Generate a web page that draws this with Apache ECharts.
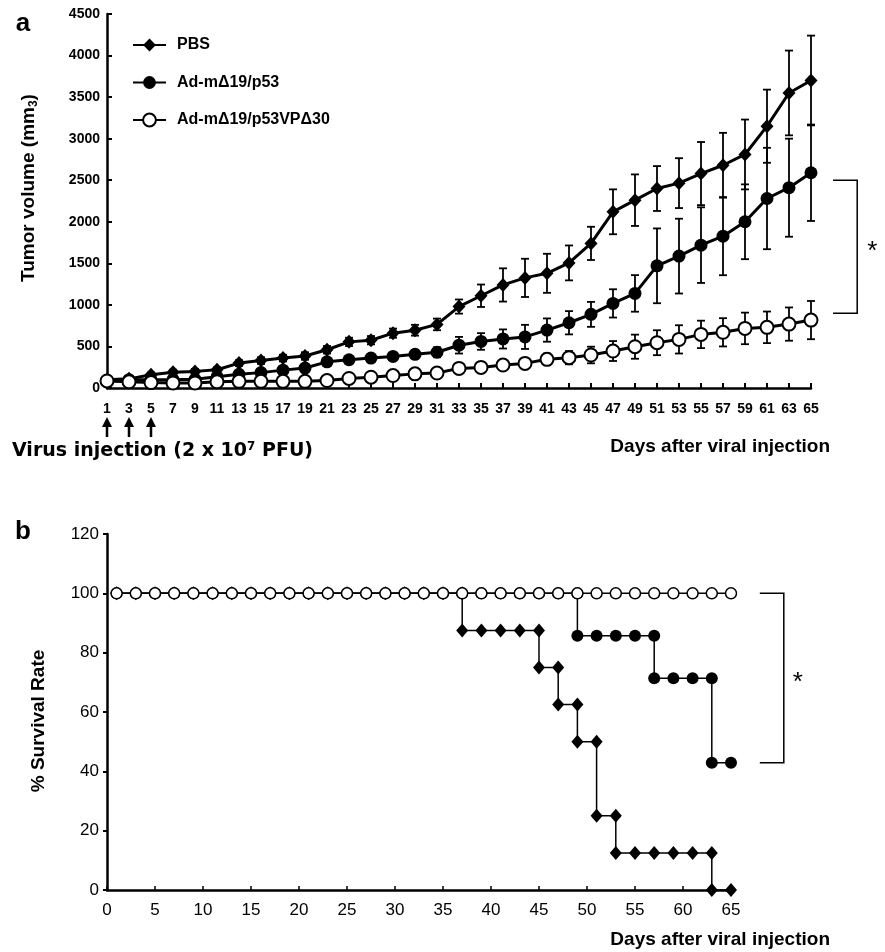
<!DOCTYPE html>
<html><head><meta charset="utf-8">
<script src="https://cdn.jsdelivr.net/npm/echarts@6/dist/echarts.min.js"></script>
<style>html,body{margin:0;padding:0;background:#fff}#c{width:885px;height:952px}</style>
</head><body><div id="c"></div>
<script>
// ---- Panel a: tumor volume (mean ± error) ----
const days = [1,3,5,7,9,11,13,15,17,19,21,23,25,27,29,31,33,35,37,39,41,43,45,47,49,51,53,55,57,59,61,63,65];
const pbsMean = [100,110,160,190,200,220,300,330,360,385,460,555,575,660,695,765,980,1110,1240,1325,1380,1505,1740,2120,2260,2400,2465,2580,2680,2810,3150,3550,3700];
const pbsErr  = [20,20,25,30,30,30,35,40,40,45,45,50,50,55,65,70,85,135,200,230,235,210,200,270,310,270,300,380,390,420,440,510,540];
const adMean  = [90,100,100,100,105,135,165,185,215,240,315,340,360,380,405,430,515,560,590,615,697,785,886,1018,1138,1470,1587,1719,1827,2000,2280,2410,2590];
const adErr   = [15,15,20,20,20,25,25,30,30,35,40,40,40,45,50,60,100,100,115,145,140,140,150,170,220,450,450,455,470,450,610,590,580];
const vpMean  = [85,75,65,60,60,75,80,80,80,80,90,115,130,150,170,180,236,248,276,296,345,365,397,445,497,545,585,645,670,717,730,769,817];
const vpErr   = [10,10,10,10,10,15,15,15,15,15,20,25,25,30,35,40,50,55,60,60,70,80,100,120,145,150,170,165,170,190,190,200,230];
const seriesNames = ['PBS','Ad-mΔ19/p53','Ad-mΔ19/p53VPΔ30'];
const injectionDays = [1,3,5];
const bracketA = [2500, 900];

// ---- Panel b: survival (%) ----
const pbsSurvX = [1,3,5,7,9,11,13,15,17,19,21,23,25,27,29,31,33,35,37,37,39,41,43,45,45,47,47,49,49,51,51,53,53,55,57,59,61,63,63,65];
const pbsSurvY = [100,100,100,100,100,100,100,100,100,100,100,100,100,100,100,100,100,100,100,87.5,87.5,87.5,87.5,87.5,75,75,62.5,62.5,50,50,25,25,12.5,12.5,12.5,12.5,12.5,12.5,0,0];
const adSurvX = [1,3,5,7,9,11,13,15,17,19,21,23,25,27,29,31,33,35,37,39,41,43,45,47,49,49,51,53,55,57,57,59,61,63,63,65];
const adSurvY = [100,100,100,100,100,100,100,100,100,100,100,100,100,100,100,100,100,100,100,100,100,100,100,100,100,85.7,85.7,85.7,85.7,85.7,71.4,71.4,71.4,71.4,42.9,42.9];
const vpSurvX = [1,3,5,7,9,11,13,15,17,19,21,23,25,27,29,31,33,35,37,39,41,43,45,47,49,51,53,55,57,59,61,63,65];
const vpSurvY = [100,100,100,100,100,100,100,100,100,100,100,100,100,100,100,100,100,100,100,100,100,100,100,100,100,100,100,100,100,100,100,100,100];
const bracketB = [100, 42.9];

const F = '"Liberation Sans", Arial, sans-serif';
const FD = '"DejaVu Sans", "Liberation Sans", sans-serif';
const FN = '"Liberation Sans Narrow", "Arial Narrow", "Liberation Sans", Arial, sans-serif';

const chart = echarts.init(document.getElementById('c'), null, {renderer:'canvas'});

function errSeries(mean, err) {
  return {
    type:'custom', xAxisIndex:0, yAxisIndex:0, z:2, silent:true,
    data: mean.map((m,i)=>[i, m-err[i], m+err[i]]),
    encode:{x:0, y:[1,2]},
    renderItem(params, api){
      const x = api.value(0);
      const lo = api.coord([x, api.value(1)]);
      const hi = api.coord([x, api.value(2)]);
      const w = 4, st = {stroke:'#000', lineWidth:1.8};
      return {type:'group', children:[
        {type:'line', shape:{x1:lo[0],y1:lo[1],x2:hi[0],y2:hi[1]}, style:st},
        {type:'line', shape:{x1:lo[0]-w,y1:lo[1],x2:lo[0]+w,y2:lo[1]}, style:st},
        {type:'line', shape:{x1:hi[0]-w,y1:hi[1],x2:hi[0]+w,y2:hi[1]}, style:st}
      ]};
    }
  };
}

const axisLineStyle = {color:'#000', width:2.5};
const option = {
  animation:false,
  backgroundColor:'#fff',
  grid:[
    {left:107, top:14, width:704, height:374},
    {left:107, top:534, width:624, height:356}
  ],
  legend:{
    data:seriesNames, orient:'vertical', left:132, top:37, padding:0,
    itemWidth:33, itemHeight:16, itemGap:21.5,
    selectedMode:false,
    textStyle:{fontFamily:F, fontWeight:'bold', fontSize:16, color:'#000', padding:[0,0,0,6]}
  },
  xAxis:[
    {gridIndex:0, type:'category', data:days.map(String), boundaryGap:false,
     axisLine:{lineStyle:axisLineStyle},
     axisTick:{inside:true, length:5, alignWithLabel:true, lineStyle:{color:'#000', width:2}},
     axisLabel:{interval:0, color:'#000', fontFamily:F, fontWeight:'bold', fontSize:14, margin:14},
     splitLine:{show:false}},
    {gridIndex:1, type:'value', min:0, max:65, interval:5,
     axisLine:{show:true, lineStyle:axisLineStyle},
     axisTick:{inside:true, length:4, lineStyle:{color:'#000', width:1.5}},
     axisLabel:{color:'#000', fontFamily:FN, fontSize:17, margin:12},
     splitLine:{show:false}}
  ],
  yAxis:[
    {gridIndex:0, type:'value', min:0, max:4500, interval:500,
     axisLine:{show:true, lineStyle:axisLineStyle},
     axisTick:{show:true, inside:true, length:5, lineStyle:{color:'#000', width:2}},
     axisLabel:{color:'#000', fontFamily:F, fontWeight:'bold', fontSize:14, margin:7, formatter:v=>String(v)},
     splitLine:{show:false}},
    {gridIndex:1, type:'value', min:0, max:120, interval:20,
     axisLine:{show:true, lineStyle:axisLineStyle},
     axisTick:{show:true, inside:false, length:4, lineStyle:{color:'#000', width:2}},
     axisLabel:{color:'#000', fontFamily:FN, fontSize:17, margin:8},
     splitLine:{show:false}}
  ],
  series:[
    errSeries(pbsMean, pbsErr),
    errSeries(adMean, adErr),
    errSeries(vpMean, vpErr),
    {name:seriesNames[0], type:'line', xAxisIndex:0, yAxisIndex:0, z:3, data:pbsMean,
     symbol:'diamond', symbolSize:[13,14], showAllSymbol:true,
     lineStyle:{color:'#000', width:3}, itemStyle:{color:'#000'}},
    {name:seriesNames[1], type:'line', xAxisIndex:0, yAxisIndex:0, z:4, data:adMean,
     symbol:'circle', symbolSize:13, showAllSymbol:true,
     lineStyle:{color:'#000', width:3}, itemStyle:{color:'#000'}},
    {name:seriesNames[2], type:'line', xAxisIndex:0, yAxisIndex:0, z:5, data:vpMean,
     symbol:'circle', symbolSize:13, showAllSymbol:true,
     lineStyle:{color:'#000', width:3}, itemStyle:{color:'#fff', borderColor:'#000', borderWidth:2}},
    {name:'PBS_surv', type:'line', xAxisIndex:1, yAxisIndex:1, z:3,
     data:pbsSurvX.map((x,i)=>[x,pbsSurvY[i]]),
     symbol:'diamond', symbolSize:[12,14], showAllSymbol:true,
     lineStyle:{color:'#000', width:1.5}, itemStyle:{color:'#000'}},
    {name:'Ad_surv', type:'line', xAxisIndex:1, yAxisIndex:1, z:4,
     data:adSurvX.map((x,i)=>[x,adSurvY[i]]),
     symbol:'circle', symbolSize:12, showAllSymbol:true,
     lineStyle:{color:'#000', width:1.5}, itemStyle:{color:'#000'}},
    {name:'VP_surv', type:'line', xAxisIndex:1, yAxisIndex:1, z:5,
     data:vpSurvX.map((x,i)=>[x,vpSurvY[i]]),
     symbol:'circle', symbolSize:11, showAllSymbol:true,
     lineStyle:{color:'#000', width:1.5}, itemStyle:{color:'#fff', borderColor:'#000', borderWidth:1.5}}
  ]
};
chart.setOption(option);

// ---- annotations positioned through the axes ----
const A = (pt)=>chart.convertToPixel({xAxisIndex:0, yAxisIndex:0}, pt);
const B = (pt)=>chart.convertToPixel({xAxisIndex:1, yAxisIndex:1}, pt);
const g = [];
const txt = (x,y,text,opt)=>({type:'text', x, y, style:Object.assign({text, fill:'#000', fontFamily:F, fontWeight:'bold', fontSize:17, align:'left', verticalAlign:'middle'}, opt||{})});

// panel letters
g.push(txt(23, 24, 'a', {fontSize:26, align:'center'}));
g.push(txt(23, 532, 'b', {fontSize:26, align:'center'}));

// y axis titles (rotated)
g.push({type:'text', x:29, y:188, rotation:Math.PI/2, style:{
  text:'Tumor volume (mm{s|3})', fill:'#000', fontFamily:F, fontWeight:'bold', fontSize:19,
  align:'center', verticalAlign:'middle',
  rich:{s:{fontFamily:F, fontWeight:'bold', fontSize:12, verticalAlign:'bottom', padding:[9,0,0,0]}}}});
g.push({type:'text', x:39, y:721, rotation:Math.PI/2, style:{
  text:'% Survival Rate', fill:'#000', fontFamily:F, fontWeight:'bold', fontSize:19,
  align:'center', verticalAlign:'middle'}});

// injection arrows
injectionDays.forEach(d=>{
  const p = A([days.indexOf(d), 0]);
  g.push({type:'line', shape:{x1:p[0], y1:p[1]+36, x2:p[0], y2:p[1]+49}, style:{stroke:'#000', lineWidth:2.5}});
  g.push({type:'polygon', shape:{points:[[p[0]-5,p[1]+39],[p[0]+5,p[1]+39],[p[0],p[1]+29]]}, style:{fill:'#000'}});
});
const a0 = A([0,0]);
g.push({type:'text', x:12, y:a0[1]+63, style:{
  text:'Virus injection (2 x 10{p|7} PFU)', fill:'#000', fontFamily:FD, fontWeight:'bold', fontSize:19,
  align:'left', verticalAlign:'middle',
  rich:{p:{fontFamily:FD, fontWeight:'bold', fontSize:12, verticalAlign:'top', padding:[0,0,9,0]}}}});
g.push(txt(830, a0[1]+59, 'Days after viral injection', {align:'right', fontSize:19}));

// bracket a
const last = days.length-1;
const pl = A([last, bracketA[0]]), pl2 = A([last-1, bracketA[1]]);
const step = pl[0]-pl2[0];
const bx1 = pl[0]+step, bx2 = pl[0]+2.1*step;
const byT = pl[1], byB = A([last, bracketA[1]])[1];
g.push({type:'polyline', shape:{points:[[bx1,byT],[bx2,byT],[bx2,byB],[bx1,byB]]}, style:{stroke:'#000', lineWidth:1.5, fill:null}});
g.push(txt(bx2+15, (byT+byB)/2+5, '*', {fontSize:26, fontWeight:'normal', align:'center'}));

// bracket b
const q1 = B([68, bracketB[0]]), q2 = B([70.5, bracketB[1]]);
g.push({type:'polyline', shape:{points:[[q1[0],q1[1]],[q2[0],q1[1]],[q2[0],q2[1]],[q1[0],q2[1]]]}, style:{stroke:'#000', lineWidth:1.5, fill:null}});
g.push(txt(q2[0]+14, (q1[1]+q2[1])/2+5, '*', {fontSize:26, fontWeight:'normal', align:'center'}));

const b0 = B([0,0]);
g.push(txt(830, b0[1]+50, 'Days after viral injection', {align:'right', fontSize:19}));

chart.setOption({graphic:g});
</script></body></html>
